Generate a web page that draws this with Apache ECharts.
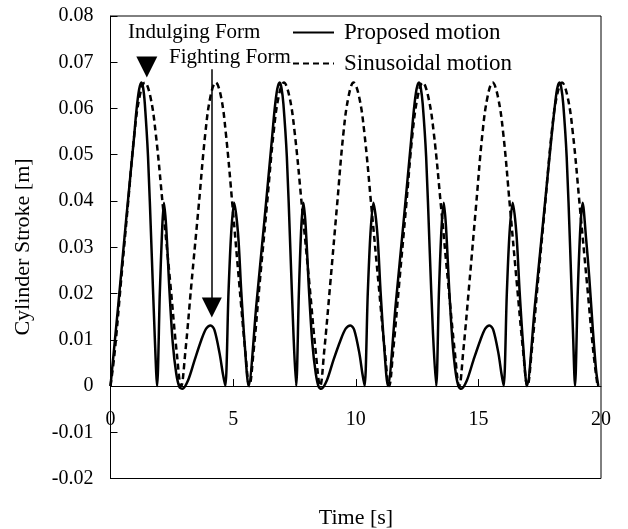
<!DOCTYPE html>
<html>
<head>
<meta charset="utf-8">
<script src="https://cdn.jsdelivr.net/npm/echarts@6/dist/echarts.min.js"></script>
<style>
  html, body { margin: 0; padding: 0; background: #fff; }
  #main { width: 628px; height: 529px; }
</style>
</head>
<body>
<div id="main"></div>
<script>
// time [s] and stroke [m]
var tProposed = [
  0, 0.32, 0.63, 0.95, 1.06, 1.17, 1.26, 1.33, 1.40, 1.53, 1.67, 1.80, 1.90,
  2.01, 2.11, 2.18, 2.27, 2.41, 2.54, 2.68, 2.81, 2.93,
  3.16, 3.43, 3.70, 3.90, 4.08, 4.24, 4.45, 4.58, 4.68,
  4.81, 4.92, 5.04, 5.20, 5.33, 5.47, 5.63,
  5.95, 6.27, 6.58, 6.69, 6.80, 6.90, 6.97, 7.05, 7.19, 7.33, 7.46, 7.57,
  7.68, 7.78, 7.87, 7.96, 8.10, 8.23, 8.37, 8.49, 8.59,
  8.82, 9.09, 9.38, 9.59, 9.78, 9.94, 10.15, 10.27, 10.36,
  10.49, 10.60, 10.72, 10.88, 11.01, 11.15, 11.31,
  11.63, 11.95, 12.26, 12.37, 12.48, 12.58, 12.65, 12.73, 12.87, 13.01, 13.15, 13.28,
  13.39, 13.50, 13.59, 13.68, 13.82, 13.95, 14.08, 14.20, 14.30,
  14.53, 14.80, 15.08, 15.28, 15.45, 15.61, 15.82, 15.94, 16.03,
  16.16, 16.27, 16.40, 16.55, 16.68, 16.82, 16.98,
  17.31, 17.64, 17.97, 18.10, 18.21, 18.31, 18.38, 18.46, 18.60, 18.74, 18.86, 18.94,
  19.05, 19.16, 19.25, 19.39, 19.52, 19.66, 19.80, 19.89
];
var yProposed = [
  0, 0.0177, 0.0355, 0.0532, 0.0597, 0.0642, 0.0656, 0.0645, 0.0610, 0.0496, 0.0301, 0.0113, 0,
  0.0200, 0.0344, 0.0396, 0.0344, 0.0200, 0.0092, 0.0027, -0.0002, -0.0006,
  0.0012, 0.0056, 0.0099, 0.0124, 0.0131, 0.0121, 0.0070, 0.0027, 0,
  0.0200, 0.0330, 0.0396, 0.0330, 0.0206, 0.0092, 0,
  0.0177, 0.0355, 0.0532, 0.0597, 0.0642, 0.0656, 0.0645, 0.0610, 0.0496, 0.0301, 0.0113, 0,
  0.0200, 0.0344, 0.0396, 0.0344, 0.0200, 0.0092, 0.0027, -0.0002, -0.0006,
  0.0012, 0.0056, 0.0099, 0.0124, 0.0131, 0.0121, 0.0070, 0.0027, 0,
  0.0200, 0.0330, 0.0396, 0.0330, 0.0206, 0.0092, 0,
  0.0177, 0.0355, 0.0532, 0.0597, 0.0642, 0.0656, 0.0645, 0.0610, 0.0496, 0.0301, 0.0113, 0,
  0.0200, 0.0344, 0.0396, 0.0344, 0.0200, 0.0092, 0.0027, -0.0002, -0.0006,
  0.0012, 0.0056, 0.0099, 0.0124, 0.0131, 0.0121, 0.0070, 0.0027, 0,
  0.0200, 0.0330, 0.0396, 0.0330, 0.0206, 0.0092, 0,
  0.0177, 0.0355, 0.0532, 0.0597, 0.0642, 0.0656, 0.0645, 0.0610, 0.0496, 0.0301, 0.0113, 0,
  0.0200, 0.0344, 0.0396, 0.0320, 0.0236, 0.0128, 0.0034, 0
];

var tSinusoidal = [
  0, 0.17, 0.42, 0.70, 0.98, 1.19, 1.40, 1.62, 1.84, 2.14, 2.44, 2.70, 2.88,
  3.05, 3.30, 3.59, 3.87, 4.08, 4.29, 4.50, 4.70, 4.98, 5.25, 5.50, 5.66,
  5.83, 6.08, 6.37, 6.65, 6.86, 7.07, 7.29, 7.51, 7.81, 8.11, 8.37, 8.55,
  8.71, 8.96, 9.23, 9.50, 9.71, 9.91, 10.13, 10.35, 10.64, 10.93, 11.19, 11.36,
  11.52, 11.77, 12.05, 12.32, 12.53, 12.73, 12.95, 13.18, 13.48, 13.77, 14.04, 14.22,
  14.38, 14.63, 14.90, 15.17, 15.38, 15.58, 15.79, 16.01, 16.29, 16.57, 16.83, 17.00,
  17.17, 17.42, 17.71, 17.99, 18.20, 18.41, 18.63, 18.85, 19.14, 19.43, 19.69, 19.86
];
var ySinusoidal = [
  0, 0.0073, 0.0221, 0.0386, 0.0548, 0.0627, 0.0656, 0.0627, 0.0548, 0.0386, 0.0221, 0.0073, 0,
  0.0073, 0.0221, 0.0386, 0.0548, 0.0627, 0.0656, 0.0627, 0.0548, 0.0386, 0.0221, 0.0073, 0,
  0.0073, 0.0221, 0.0386, 0.0548, 0.0627, 0.0656, 0.0627, 0.0548, 0.0386, 0.0221, 0.0073, 0,
  0.0073, 0.0221, 0.0386, 0.0548, 0.0627, 0.0656, 0.0627, 0.0548, 0.0386, 0.0221, 0.0073, 0,
  0.0073, 0.0221, 0.0386, 0.0548, 0.0627, 0.0656, 0.0627, 0.0548, 0.0386, 0.0221, 0.0073, 0,
  0.0073, 0.0221, 0.0386, 0.0548, 0.0627, 0.0656, 0.0627, 0.0548, 0.0386, 0.0221, 0.0073, 0,
  0.0073, 0.0221, 0.0386, 0.0548, 0.0627, 0.0656, 0.0627, 0.0548, 0.0386, 0.0221, 0.0073, 0
];

var yTickLabels = ['-0.02', '-0.01', '0', '0.01', '0.02', '0.03', '0.04', '0.05', '0.06', '0.07', '0.08'];
var xTickLabels = ['0', '5', '10', '15', '20'];
var xInnerTicks = [5, 10, 15];
var seriesNames = ['Proposed motion', 'Sinusoidal motion'];

// annotation anchors in data units
var indulgingArrow = [1.48, 0.069];
var fightingArrow = [[4.13, 0.0685], [4.13, 0.0170]];

function zip(a, b) {
  var out = [];
  for (var i = 0; i < a.length; i++) out.push([a[i], b[i]]);
  return out;
}

// small upward ticks sitting on the zero line
var zeroTicks = xInnerTicks.map(function (x) {
  return [{ coord: [x, 0] }, { coord: [x, 0.0015] }];
});

var serif = 'Liberation Serif, Times New Roman, serif';
var myChart = echarts.init(document.getElementById('main'));

var option = {
  animation: false,
  backgroundColor: '#fff',
  grid: {
    left: 110.5, right: 27, top: 16, bottom: 50.5,
    show: true, borderColor: '#000', borderWidth: 1
  },
  legend: {
    orient: 'vertical',
    left: 287, top: 16,
    itemWidth: 41, itemHeight: 14, itemGap: 8,
    data: seriesNames,
    itemStyle: { opacity: 0 },
    textStyle: { fontFamily: serif, fontSize: 23, color: '#000', padding: [0, 0, 0, 5] }
  },
  xAxis: {
    type: 'value', min: 0, max: 20, interval: 5,
    axisLine: { onZero: true, lineStyle: { color: '#000', width: 1 } },
    axisTick: { show: false },
    splitLine: { show: false },
    axisLabel: {
      // labels stay on the grid edge, pulled up under the zero line
      margin: -69, color: '#000', fontFamily: serif, fontSize: 20,
      formatter: function (v) { return xTickLabels[Math.round(v / 5)]; }
    }
  },
  yAxis: {
    type: 'value', min: -0.02, max: 0.08, interval: 0.01,
    axisLine: { onZero: false, lineStyle: { color: '#000', width: 1 } },
    axisTick: { inside: true, length: 7, lineStyle: { color: '#000' } },
    splitLine: { show: false },
    axisLabel: {
      margin: 17, color: '#000', fontFamily: serif, fontSize: 20,
      formatter: function (v) { return yTickLabels[Math.round((v + 0.02) / 0.01)]; }
    }
  },
  graphic: [
    { type: 'text', x: 23, y: 247, rotation: Math.PI / 2,
      style: { text: 'Cylinder Stroke [m]', fontFamily: serif, fontSize: 22, fill: '#000',
               textAlign: 'center', textVerticalAlign: 'middle' } },
    { type: 'text', x: 356, y: 518,
      style: { text: 'Time [s]', fontFamily: serif, fontSize: 22, fill: '#000',
               textAlign: 'center', textVerticalAlign: 'middle' } },
    { type: 'text', x: 128, y: 32,
      style: { text: 'Indulging Form', fontFamily: serif, fontSize: 21, fill: '#000',
               textAlign: 'left', textVerticalAlign: 'middle' } },
    { type: 'text', x: 169, y: 57,
      style: { text: 'Fighting Form', fontFamily: serif, fontSize: 21, fill: '#000',
               textAlign: 'left', textVerticalAlign: 'middle' } }
  ],
  series: [
    {
      name: seriesNames[0],
      type: 'line',
      data: zip(tProposed, yProposed),
      showSymbol: false, symbol: 'none',
      smooth: 0.3,
      lineStyle: { color: '#000', width: 2.5 },
      itemStyle: { color: '#000' },
      z: 3,
      markPoint: {
        silent: true,
        symbol: 'triangle', symbolSize: [21, 21], symbolRotate: 180,
        itemStyle: { color: '#000', opacity: 1 },
        label: { show: false },
        data: [{ coord: indulgingArrow }]
      },
      markLine: {
        silent: true,
        symbol: ['none', 'triangle'], symbolSize: [20, 20],
        lineStyle: { color: '#000', width: 1.5, type: 'solid' },
        label: { show: false },
        data: [[{ coord: fightingArrow[0] }, { coord: fightingArrow[1] }]]
      }
    },
    {
      name: seriesNames[1],
      type: 'line',
      data: zip(tSinusoidal, ySinusoidal),
      showSymbol: false, symbol: 'none',
      smooth: 0.4,
      lineStyle: { color: '#000', width: 2.5, type: [6, 4] },
      itemStyle: { color: '#000' },
      z: 2,
      markLine: {
        silent: true,
        symbol: ['none', 'none'],
        lineStyle: { color: '#000', width: 1, type: 'solid' },
        label: { show: false },
        data: zeroTicks
      }
    }
  ]
};

myChart.setOption(option);
</script>
</body>
</html>
